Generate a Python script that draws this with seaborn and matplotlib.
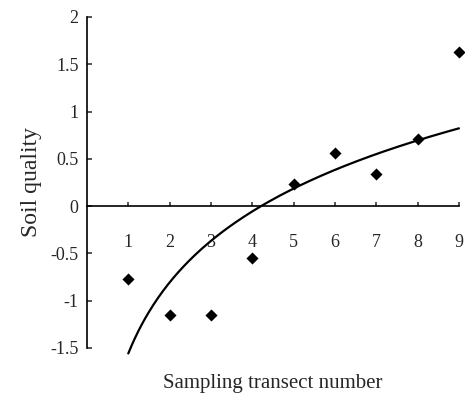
import numpy as np
import pandas as pd
import matplotlib
matplotlib.use("Agg")
import matplotlib.pyplot as plt
import seaborn as sns

# sampling transects and their soil quality scores
transects = [1, 2, 3, 4, 5, 6, 7, 8, 9]
soilQuality = [-0.77, -1.15, -1.15, -0.55, 0.23, 0.56, 0.34, 0.71, 1.63]
yTicks = [-1.5, -1, -0.5, 0, 0.5, 1, 1.5, 2]
yTickLabels = ["-1.5", "-1", "-0.5", "0", "0.5", "1", "1.5", "2"]

sns.set_style("white")
plt.rcParams['font.family'] = ['Liberation Serif', 'DejaVu Serif']

df = pd.DataFrame({"transect": transects, "quality": soilQuality})

# logarithmic trend line fitted to the points
slope, intercept = np.polyfit(np.log(df["transect"]), df["quality"], 1)
xs = np.linspace(1, 9, 200)
trend = pd.DataFrame({"x": xs, "y": slope * np.log(xs) + intercept})

fig = plt.figure(figsize=(4.65, 3.95), dpi=100)
ax = fig.add_axes([0.187, 0.119, 0.8, 0.838])

sns.lineplot(data=trend, x="x", y="y", color="black", linewidth=1.6, ax=ax,
             clip_on=False)
sns.scatterplot(data=df, x="transect", y="quality", marker="D", color="black",
                s=38, edgecolor="black", linewidth=0, ax=ax, zorder=3, clip_on=False)

ax.set_xlim(0, 9)
ax.set_ylim(-1.5, 2)
ax.spines['top'].set_visible(False)
ax.spines['right'].set_visible(False)
ax.spines['bottom'].set_position(('data', 0))
for s in ['left', 'bottom']:
    ax.spines[s].set_color("black")
    ax.spines[s].set_linewidth(1.2)

ax.set_xticks(transects)
ax.set_xticklabels([str(t) for t in transects], fontsize=13)
ax.set_yticks(yTicks)
ax.set_yticklabels(yTickLabels, fontsize=13)
ax.tick_params(axis='x', direction='in', length=3, width=1.1, pad=20, bottom=True)
ax.tick_params(axis='y', direction='in', length=3.5, width=1.1, pad=6, left=True)

ax.set_xlabel("Sampling transect number", fontsize=15, labelpad=0)
ax.xaxis.set_label_coords(0.5, -0.08)
ax.set_ylabel("Soil quality", fontsize=17)
ax.yaxis.set_label_coords(-0.12, 0.5)

fig.savefig("out.png", dpi=100)
